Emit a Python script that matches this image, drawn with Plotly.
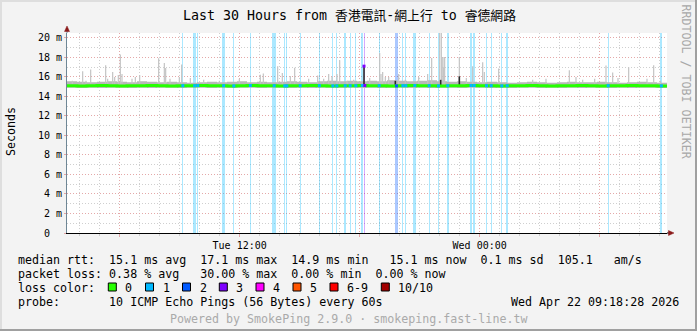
import plotly.graph_objects as go
import pandas as pd

# ---------------- data ----------------
t_start = "2026-04-21 03:22"
t_end = "2026-04-22 09:22"
band_step = "30min"

# smoke band (every 30 minutes from t_start), seconds in ms units
smoke_top = [
    15.55, 15.50, 15.45, 15.50, 15.55, 15.50, 15.45, 15.55, 15.50, 15.45,
    15.50, 15.45, 15.40, 15.45, 15.50, 15.45, 15.50, 15.55, 15.45, 15.50,
    15.45, 15.50, 15.55, 15.50, 15.45, 15.55, 15.60, 15.55, 15.60, 15.55,
    15.60, 15.55, 15.65, 15.60, 15.55, 15.60, 15.65, 15.55, 15.50, 15.55,
    15.50, 15.45, 15.50, 15.45, 15.40, 15.45, 15.50, 15.45, 15.40, 15.45,
    15.50, 15.45, 15.45, 15.50, 15.45, 15.40, 15.45, 15.50, 15.45, 15.40,
    15.45,
]
smoke_bottom = [
    14.90, 14.85, 14.90, 14.85, 14.90, 14.90, 14.85, 14.90, 14.85, 14.90,
    14.90, 14.85, 14.90, 14.90, 14.85, 14.90, 14.85, 14.90, 14.90, 14.85,
    14.90, 14.90, 14.85, 14.90, 14.85, 14.90, 14.90, 14.85, 14.90, 14.85,
    14.90, 14.85, 14.90, 14.90, 14.85, 14.90, 14.85, 14.90, 14.90, 14.85,
    14.90, 14.90, 14.85, 14.90, 14.85, 14.90, 14.90, 14.85, 14.90, 14.85,
    14.90, 14.85, 14.90, 14.90, 14.85, 14.90, 14.85, 14.90, 14.90, 14.85,
    14.90,
]
median_rtt = [
    15.10, 15.08, 15.10, 15.12, 15.10, 15.08, 15.10, 15.10, 15.12, 15.10,
    15.08, 15.10, 15.10, 15.12, 15.10, 15.10, 15.08, 15.10, 15.12, 15.10,
    15.10, 15.08, 15.10, 15.10, 15.12, 15.10, 15.08, 15.10, 15.10, 15.12,
    15.10, 15.10, 15.08, 15.10, 15.12, 15.10, 15.10, 15.08, 15.10, 15.10,
    15.12, 15.10, 15.10, 15.08, 15.10, 15.10, 15.12, 15.10, 15.08, 15.10,
    15.10, 15.12, 15.10, 15.08, 15.10, 15.10, 15.12, 15.10, 15.10, 15.08,
    15.10,
]

# individual smoke spikes (time, top in ms)
spike_times = [
    "2026-04-21 03:38", "2026-04-21 04:09", "2026-04-21 04:19", "2026-04-21 04:33",
    "2026-04-21 05:18", "2026-04-21 05:24", "2026-04-21 05:39", "2026-04-21 05:45",
    "2026-04-21 05:56", "2026-04-21 06:02", "2026-04-21 06:07", "2026-04-21 06:37",
    "2026-04-21 06:47", "2026-04-21 07:00", "2026-04-21 07:57", "2026-04-21 08:14",
    "2026-04-21 08:18", "2026-04-21 08:31", "2026-04-21 08:59", "2026-04-21 09:06",
    "2026-04-21 09:32", "2026-04-21 10:12", "2026-04-21 10:59", "2026-04-21 11:59",
    "2026-04-21 13:02", "2026-04-21 13:11", "2026-04-21 13:54", "2026-04-21 14:08",
    "2026-04-21 14:32", "2026-04-21 14:45", "2026-04-21 15:27", "2026-04-21 15:54",
    "2026-04-21 16:12", "2026-04-21 16:27", "2026-04-21 16:37", "2026-04-21 16:52",
    "2026-04-21 17:00", "2026-04-21 17:22", "2026-04-21 17:42", "2026-04-21 18:30",
    "2026-04-21 19:00", "2026-04-21 19:04", "2026-04-21 19:09", "2026-04-21 19:17",
    "2026-04-21 19:27", "2026-04-21 19:57", "2026-04-21 20:17", "2026-04-21 20:57",
    "2026-04-21 21:24", "2026-04-21 21:36", "2026-04-21 22:00", "2026-04-21 22:05",
    "2026-04-21 22:07", "2026-04-21 22:10", "2026-04-21 22:12", "2026-04-21 22:15",
    "2026-04-21 22:59", "2026-04-21 23:20", "2026-04-21 23:39", "2026-04-22 00:09",
    "2026-04-22 00:14", "2026-04-22 00:57", "2026-04-22 02:39", "2026-04-22 03:19",
    "2026-04-22 04:29", "2026-04-22 04:49", "2026-04-22 05:09", "2026-04-22 05:45",
    "2026-04-22 06:19", "2026-04-22 06:39", "2026-04-22 06:55", "2026-04-22 07:27",
    "2026-04-22 08:22", "2026-04-22 08:42", "2026-04-22 09:02",
]
spike_tops = [
    15.6, 16.57, 15.6, 16.75,
    17.2, 15.8, 16.5, 16.0,
    16.2, 18.3, 16.3, 15.8,
    16.0, 16.2, 17.9, 17.43,
    16.9, 15.8, 16.0, 17.26,
    15.9, 15.7, 15.6, 15.8,
    16.23, 16.35, 17.09, 16.4,
    16.1, 16.95, 15.8, 16.15,
    15.8, 16.3, 16.05, 16.3,
    17.7, 15.6, 15.7, 15.9,
    18.46, 16.3, 16.5, 16.0,
    16.0, 16.3, 15.7, 16.0,
    16.3, 17.95, 20.6, 20.6,
    18.0, 18.05, 17.0, 18.05,
    18.05, 15.9, 17.09, 17.5,
    16.5, 16.85, 15.7, 15.8,
    16.68, 16.0, 15.7, 15.8,
    17.16, 16.45, 15.9, 17.0,
    15.8, 17.2, 15.6,
]

# dark (dense) smoke columns
dark_times = ["2026-04-21 18:13", "2026-04-21 19:47", "2026-04-21 22:03", "2026-04-21 22:59"]
dark_tops = [17.1, 15.6, 15.7, 16.06]

# median peak
peak_times = ["2026-04-21 18:13"]
peak_values = [17.1]
peak_levels = [3]

# packet loss periods: start, duration (minutes), loss colour level
loss_times = [
    "2026-04-21 09:08", "2026-04-21 09:41", "2026-04-21 09:53", "2026-04-21 11:08",
    "2026-04-21 11:41", "2026-04-21 12:30", "2026-04-21 13:38", "2026-04-21 14:14",
    "2026-04-21 14:20", "2026-04-21 15:00", "2026-04-21 15:57", "2026-04-21 16:38",
    "2026-04-21 16:50", "2026-04-21 17:14", "2026-04-21 17:30", "2026-04-21 17:47",
    "2026-04-21 18:05", "2026-04-21 18:14", "2026-04-21 18:57", "2026-04-21 19:47",
    "2026-04-21 20:08", "2026-04-21 20:17", "2026-04-21 20:41", "2026-04-21 21:27",
    "2026-04-21 21:55", "2026-04-21 22:21", "2026-04-21 23:32", "2026-04-21 23:41",
    "2026-04-22 00:18", "2026-04-22 00:33", "2026-04-22 01:05", "2026-04-22 01:20",
    "2026-04-22 06:24", "2026-04-22 09:02",
]
loss_minutes = [3, 8, 3, 8, 3, 4, 11, 3, 3, 3, 4, 3, 3, 5, 3, 3, 6, 3, 3, 7,
                3, 3, 9, 3, 3, 7, 4, 5, 5, 3, 3, 5, 3, 6]
loss_levels = [1, 1, 1, 1, 1, 1, 1, 1, 1, 1, 1, 1, 1, 1, 1, 1, 1, 3, 1, 2,
               1, 1, 1, 1, 1, 1, 1, 1, 1, 1, 1, 1, 1, 1]

loss_labels = ["0", "1", "2", "3", "4", "5", "6-9", "10/10"]
loss_colors = ["#26ff00", "#00b8ff", "#0059ff", "#7e00ff", "#ff00ff", "#ff5500", "#ff0000", "#a10000"]
loss_bg = ["rgba(38,255,0,0.33)", "rgba(0,184,255,0.33)", "rgba(0,89,255,0.33)",
           "rgba(126,0,255,0.33)", "rgba(255,0,255,0.33)", "rgba(255,85,0,0.33)",
           "rgba(255,0,0,0.33)", "rgba(161,0,0,0.33)"]

y_tick_vals = [0, 2, 4, 6, 8, 10, 12, 14, 16, 18, 20]
y_tick_text = ["0\u00a0\u00a0", "2 m", "4 m", "6 m", "8 m", "10 m", "12 m", "14 m", "16 m", "18 m", "20 m"]
x_tick_vals = ["2026-04-21 06:00", "2026-04-21 12:00", "2026-04-21 18:00", "2026-04-22 00:00", "2026-04-22 06:00"]
x_tick_text = ["", "Tue 12:00", "", "Wed 00:00", ""]

title_parts = ["Last 30 Hours from ", "香港電訊", "-", "網上行", " to ", "睿德網路"]
legend_rows = [
    "median rtt:  15.1 ms avg  17.1 ms max  14.9 ms min   15.1 ms now  0.1 ms sd  105.1   am/s",
    "packet loss: 0.38 % avg   30.00 % max  0.00 % min  0.00 % now",
    "loss color:",
    "probe:       10 ICMP Echo Pings (56 Bytes) every 60s",
]
date_text = "Wed Apr 22 09:18:28 2026"
powered_text = "Powered by SmokePing 2.9.0 · smokeping.fast-line.tw"
watermark_text = "RRDTOOL / TOBI OETIKER"

# ---------------- layout geometry ----------------
W, H = 697, 331
PL, PR, PT, PB = 67, 30, 33, 98
PW, PH = W - PL - PR, H - PT - PB
MONO = "DejaVu Sans Mono"
CJK = "Noto Sans CJK TC"
Y_MAX = 20.5


def px_x(px):
    return (px - PL) / PW


def px_y(py):
    return (PT + PH - py) / PH


def title_html(parts):
    out = []
    for p in parts:
        if any(ord(c) > 0x2E80 for c in p):
            out.append(f"<span style=\"font-family:{CJK};font-size:12.8px\">{p}</span>")
        else:
            out.append(p.replace(" ", "\u00a0"))
    return "".join(out)


band_times = pd.date_range(t_start, periods=len(smoke_top), freq=band_step)

fig = go.Figure()

# loss background bars
for lvl in sorted(set(loss_levels)):
    xs = [t for t, l in zip(loss_times, loss_levels) if l == lvl]
    ws = [m * 60000 for m, l in zip(loss_minutes, loss_levels) if l == lvl]
    fig.add_trace(go.Bar(
        x=xs, y=[Y_MAX] * len(xs), width=ws, offset=0, base=0,
        marker=dict(color=loss_bg[lvl], line=dict(width=0)),
        hoverinfo="skip"))

# smoke band
fig.add_trace(go.Scatter(x=band_times, y=smoke_bottom, mode="lines",
                         line=dict(width=0, shape="hv"), hoverinfo="skip"))
fig.add_trace(go.Scatter(x=band_times, y=smoke_top, mode="lines", fill="tonexty",
                         fillcolor="#b8b8b8", line=dict(width=0, shape="hv"),
                         hoverinfo="skip"))

# smoke spikes
sx, sy = [], []
for t, top in zip(spike_times, spike_tops):
    sx += [t, t, None]
    sy += [15.3, top, None]
fig.add_trace(go.Scatter(x=sx, y=sy, mode="lines",
                         line=dict(color="#c4c4c4", width=1.2), hoverinfo="skip"))

# dark smoke columns
dx, dy = [], []
for t, top in zip(dark_times, dark_tops):
    dx += [t, t, None]
    dy += [15.0, top, None]
fig.add_trace(go.Scatter(x=dx, y=dy, mode="lines",
                         line=dict(color="#2a2a2a", width=1.6), hoverinfo="skip"))

# median line
fig.add_trace(go.Scatter(x=band_times, y=median_rtt, mode="lines",
                         line=dict(color=loss_colors[0], width=3, shape="hv"),
                         hoverinfo="skip"))

# median coloured by loss at loss periods
med_series = pd.Series(median_rtt, index=band_times)
mx = [pd.Timestamp(t) + pd.Timedelta(minutes=m / 2) for t, m in zip(loss_times, loss_minutes)]
my = [med_series.asof(t) for t in mx]
fig.add_trace(go.Scatter(x=mx, y=my, mode="markers",
                         marker=dict(symbol="square", size=3,
                                     color=[loss_colors[l] for l in loss_levels],
                                     line=dict(width=0)),
                         hoverinfo="skip"))
fig.add_trace(go.Scatter(x=peak_times, y=peak_values, mode="markers",
                         marker=dict(symbol="square", size=3,
                                     color=[loss_colors[l] for l in peak_levels],
                                     line=dict(width=0)),
                         hoverinfo="skip"))

grid_major = "#e4a8a8"
grid_minor = "#cfcfcf"
dots = "1px,2px"

fig.update_layout(
    width=W, height=H, autosize=False,
    margin=dict(l=PL, r=PR, t=PT, b=PB, pad=0),
    paper_bgcolor="#f3f3f3", plot_bgcolor="#ffffff",
    showlegend=False, barmode="overlay", bargap=0,
    hovermode=False,
    font=dict(family=MONO, size=10, color="#000000"),
    xaxis=dict(
        type="date", range=[t_start, t_end], fixedrange=True,
        tickmode="array", tickvals=x_tick_vals, ticktext=x_tick_text,
        showgrid=True, gridcolor=grid_major, griddash=dots, gridwidth=1,
        ticks="outside", ticklen=3, tickcolor=grid_major, tickwidth=1,
        showline=True, linecolor="#000000", linewidth=1,
        zeroline=False, tickfont=dict(family=MONO, size=10),
        minor=dict(dtick=3600000, tick0="2026-04-21 00:00", showgrid=True,
                   gridcolor=grid_minor, griddash=dots, gridwidth=1,
                   ticks="outside", ticklen=2, tickcolor=grid_minor),
    ),
    yaxis=dict(
        range=[0, Y_MAX], fixedrange=True,
        tickmode="array", tickvals=y_tick_vals, ticktext=y_tick_text,
        showgrid=True, gridcolor=grid_major, griddash=dots, gridwidth=1,
        ticks="outside", ticklen=2, tickcolor=grid_major,
        showline=True, linecolor="#6f8796", linewidth=1,
        zeroline=False, tickfont=dict(family=MONO, size=10),
        minor=dict(dtick=1, tick0=0, showgrid=True, gridcolor=grid_minor,
                   griddash=dots, gridwidth=1),
    ),
)

shapes = []
# axis extensions and arrows
shapes.append(dict(type="line", xref="paper", yref="paper",
                   x0=1, x1=px_x(670), y0=0, y1=0,
                   line=dict(color="#000000", width=1)))
shapes.append(dict(type="path", xref="paper", yref="paper",
                   path=f"M {px_x(668.5)} {px_y(230.5)} L {px_x(674)} {px_y(233)} "
                        f"L {px_x(668.5)} {px_y(235.5)} Z",
                   fillcolor="#8b1a1a", line=dict(color="#8b1a1a", width=0.5)))
shapes.append(dict(type="line", xref="paper", yref="paper",
                   x0=0, x1=0, y0=1, y1=px_y(30),
                   line=dict(color="#6f8796", width=1)))
shapes.append(dict(type="path", xref="paper", yref="paper",
                   path=f"M {px_x(64.5)} {px_y(31.5)} L {px_x(67)} {px_y(26)} "
                        f"L {px_x(69.5)} {px_y(31.5)} Z",
                   fillcolor="#8b1a1a", line=dict(color="#8b1a1a", width=0.5)))
# frame
shapes.append(dict(type="line", xref="paper", yref="paper",
                   x0=px_x(0), x1=px_x(W), y0=px_y(1), y1=px_y(1),
                   line=dict(color="#dedede", width=2)))
shapes.append(dict(type="line", xref="paper", yref="paper",
                   x0=px_x(1), x1=px_x(1), y0=px_y(0), y1=px_y(H),
                   line=dict(color="#dedede", width=2)))
shapes.append(dict(type="line", xref="paper", yref="paper",
                   x0=px_x(0), x1=px_x(W), y0=px_y(H - 1), y1=px_y(H - 1),
                   line=dict(color="#a0a0a0", width=2)))
shapes.append(dict(type="line", xref="paper", yref="paper",
                   x0=px_x(W - 1), x1=px_x(W - 1), y0=px_y(0), y1=px_y(H),
                   line=dict(color="#a0a0a0", width=2)))

# loss colour legend squares
square_left = [108.3, 145.5, 182.5, 219.3, 256.0, 293.0, 330.0, 381.3]
annotations = []
for left, col, lab in zip(square_left, loss_colors, loss_labels):
    shapes.append(dict(type="rect", xref="paper", yref="paper",
                       x0=px_x(left), x1=px_x(left + 8), y0=px_y(291), y1=px_y(283),
                       fillcolor=col, line=dict(color="#000000", width=1)))
    annotations.append(dict(xref="paper", yref="paper", x=px_x(left + 15), y=px_y(287.5),
                            text=lab, showarrow=False, xanchor="left", yanchor="middle",
                            font=dict(family=MONO, size=11.65, color="#000000")))

# text
annotations.append(dict(xref="paper", yref="paper", x=px_x(181), y=px_y(15),
                        text=title_html(title_parts), showarrow=False,
                        xanchor="left", yanchor="middle",
                        font=dict(family=MONO, size=13.3, color="#000000")))
annotations.append(dict(xref="paper", yref="paper", x=px_x(11), y=px_y(132),
                        text="Seconds", showarrow=False, textangle=-90,
                        xanchor="center", yanchor="middle",
                        font=dict(family=MONO, size=11.65, color="#000000")))
annotations.append(dict(xref="paper", yref="paper", x=px_x(686), y=px_y(81.5),
                        text=watermark_text, showarrow=False, textangle=90,
                        xanchor="center", yanchor="middle",
                        font=dict(family=MONO, size=11.65, color="#a8a8a8")))
row_y = [259.5, 273.5, 287.5, 301.5]
for txt, yy in zip(legend_rows, row_y):
    annotations.append(dict(xref="paper", yref="paper", x=px_x(16), y=px_y(yy),
                            text=txt.replace(" ", "\u00a0"), showarrow=False,
                            xanchor="left", yanchor="middle",
                            font=dict(family=MONO, size=11.65, color="#000000")))
annotations.append(dict(xref="paper", yref="paper", x=px_x(681), y=px_y(301.5),
                        text=date_text.replace(" ", "\u00a0"), showarrow=False,
                        xanchor="right", yanchor="middle",
                        font=dict(family=MONO, size=11.65, color="#000000")))
annotations.append(dict(xref="paper", yref="paper", x=px_x(348.5), y=px_y(318.5),
                        text=powered_text.replace(" ", "\u00a0"), showarrow=False,
                        xanchor="center", yanchor="middle",
                        font=dict(family=MONO, size=11.65, color="#aaaaaa")))

fig.update_layout(shapes=shapes, annotations=annotations)
fig.write_html("out.html", config={"displayModeBar": False, "staticPlot": True})
